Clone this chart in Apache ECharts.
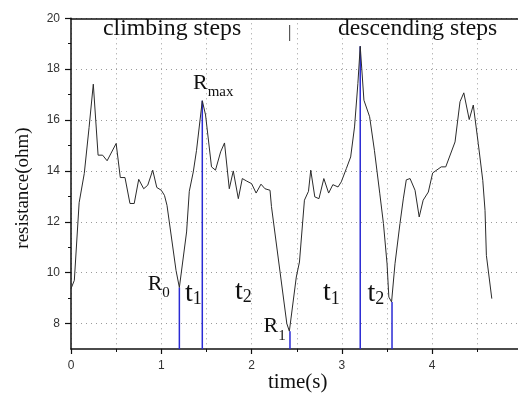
<!DOCTYPE html>
<html>
<head>
<meta charset="utf-8">
<script src="https://cdn.jsdelivr.net/npm/echarts@6/dist/echarts.min.js"></script>
<style>
  html, body { margin: 0; padding: 0; background: #ffffff; }
  #chart { width: 518px; height: 394px; }
</style>
</head>
<body>
<div id="chart"></div>
<script>
// Resistance trace recorded while walking up and then down a flight of steps
const timeS = [
  0, 0.037, 0.09, 0.147, 0.2, 0.247, 0.3, 0.35, 0.4, 0.5,
  0.546, 0.598, 0.653, 0.7, 0.75, 0.805, 0.85, 0.905, 0.95, 1.0,
  1.035, 1.063, 1.163, 1.2, 1.28, 1.31, 1.354, 1.39, 1.454, 1.49,
  1.556, 1.6, 1.657, 1.7, 1.753, 1.797, 1.853, 1.897, 1.946, 2.0,
  2.05, 2.104, 2.148, 2.204, 2.22, 2.39, 2.418, 2.44, 2.495, 2.53,
  2.585, 2.63, 2.655, 2.7, 2.746, 2.8, 2.853, 2.9, 2.957, 2.993,
  3.05, 3.097, 3.14, 3.177, 3.203, 3.244, 3.307, 3.36, 3.42, 3.46,
  3.5, 3.52, 3.55, 3.588, 3.643, 3.68, 3.713, 3.755, 3.81, 3.856,
  3.9, 3.957, 4.005, 4.1, 4.15, 4.253, 4.308, 4.35, 4.41, 4.455,
  4.51, 4.56, 4.585, 4.6, 4.66
];
const resistanceOhm = [
  9.37, 9.7, 12.75, 13.9, 15.7, 17.41, 14.62, 14.62, 14.4, 15.08,
  13.74, 13.74, 12.72, 12.72, 13.67, 13.3, 13.44, 14.03, 13.35, 13.24,
  13.04, 12.65, 10.09, 9.42, 11.6, 13.2, 13.96, 14.81, 16.76, 16.2,
  14.16, 14.03, 14.75, 15.1, 13.3, 14.0, 12.91, 13.7, 13.6, 13.5,
  13.13, 13.48, 13.3, 13.24, 12.6, 8.0, 7.7, 7.7, 9.83, 10.42,
  12.85, 13.2, 14.03, 12.98, 12.91, 13.7, 13.13, 13.46, 13.37, 13.57,
  14.1, 14.55, 15.73, 17.44, 18.9, 16.78, 16.13, 14.81, 13.1, 11.93,
  10.35, 9.04, 8.85, 10.35, 11.93, 12.9, 13.65, 13.7, 13.24, 12.19,
  12.85, 13.17, 13.92, 14.16, 14.16, 15.14, 16.72, 17.07, 16.02, 16.59,
  15.08, 13.63, 12.45, 10.68, 8.98
];

// Characteristic instants (R0, Rmax, R1, second peak, second valley)
const markerTime = [1.2, 1.454, 2.425, 3.203, 3.555];
const markerOhm = [9.42, 16.76, 7.7, 18.9, 8.85];

// Axis ranges and tick values
const timeRange = [0, 5];
const ohmRange = [7, 20];
const ohmLabelTicks = [8, 10, 12, 14, 16, 18, 20];
const ohmMinorTicks = [9, 11, 13, 15, 17, 19];

// Text annotations: symbol, subscript, anchor (left edge, baseline) in data units
const annoMain = ['R', 'R', 't', 't', 'R', 't', 't'];
const annoSub = ['max', '0', '1', '2', '1', '1', '2'];
const annoTime = [1.351, 0.849, 1.262, 1.816, 2.132, 2.791, 3.283];
const annoOhm = [17.18, 9.26, 8.83, 8.91, 7.60, 8.84, 8.82];

const SERIF = '"Liberation Serif", "Times New Roman", serif';
const SANS = '"Liberation Sans", Arial, sans-serif';
const dotted = { color: '#9a9a9a', width: 1, type: [1, 4] };

const curve = timeS.map((t, i) => [t, resistanceOhm[i]]);

const markerSeries = markerTime.map((t, i) => ({
  type: 'line',
  data: [[t, ohmRange[0]], [t, markerOhm[i]]],
  symbol: 'none',
  lineStyle: { color: '#2a2ad4', width: 1.5 },
  silent: true,
  z: 3
}));

const option = {
  animation: false,
  backgroundColor: '#ffffff',
  grid: { left: 71, top: 18.3, right: -4.5, bottom: 45, outerBoundsMode: 'none' },
  xAxis: [
    {
      type: 'value',
      min: timeRange[0], max: timeRange[1], interval: 1,
      axisLine: { show: true, onZero: false, lineStyle: { color: '#111', width: 1.5 } },
      axisTick: { show: true, inside: false, length: 5, lineStyle: { color: '#111', width: 1.2 } },
      minorTick: { show: true, splitNumber: 2, length: 3, lineStyle: { color: '#111', width: 1 } },
      axisLabel: { color: '#333', fontFamily: SANS, fontSize: 12, margin: 11 },
      splitLine: { show: true, lineStyle: dotted },
      minorSplitLine: { show: true, lineStyle: dotted }
    },
    {
      type: 'value', position: 'top',
      min: timeRange[0], max: timeRange[1], interval: 1,
      axisLine: { show: true, onZero: false, lineStyle: { color: '#111', width: 1.5 } },
      axisTick: { show: false }, axisLabel: { show: false }, splitLine: { show: false }
    }
  ],
  yAxis: [
    {
      type: 'value',
      min: ohmRange[0], max: ohmRange[1], interval: 1,
      axisLine: { show: true, onZero: false, lineStyle: { color: '#111', width: 1.5 } },
      axisTick: { show: true, inside: false, length: 6, customValues: ohmLabelTicks, lineStyle: { color: '#111', width: 1.2 } },
      axisLabel: { color: '#333', fontFamily: SANS, fontSize: 12, margin: 11, customValues: ohmLabelTicks },
      splitLine: { show: true, lineStyle: dotted }
    },
    {
      type: 'value', position: 'left',
      min: ohmRange[0], max: ohmRange[1], interval: 1,
      axisLine: { show: false },
      axisTick: { show: true, inside: false, length: 3, customValues: ohmMinorTicks, lineStyle: { color: '#111', width: 1 } },
      axisLabel: { show: false }, splitLine: { show: false }
    }
  ],
  series: [
    {
      type: 'line',
      data: curve,
      symbol: 'none',
      lineStyle: { color: '#2b2b2b', width: 1 },
      silent: true,
      z: 4
    }
  ].concat(markerSeries)
};

const chart = echarts.init(document.getElementById('chart'), null, { renderer: 'canvas' });
chart.setOption(option);

// Place the symbol/subscript labels at their data anchors
const measure = document.createElement('canvas').getContext('2d');
function widthOf(text, size) {
  measure.font = size + 'px ' + SERIF;
  return measure.measureText(text).width;
}
const annoStyle = {
  R: { main: 22, sub: 15, drop: 7 },
  t: { main: 28, sub: 18, drop: 3 }
};
function textAt(text, x, baseline, size, extra) {
  return Object.assign({
    type: 'text',
    x: x,
    y: baseline - 0.33 * size,
    silent: true,
    z: 10,
    style: {
      text: text,
      fill: '#111',
      font: size + 'px ' + SERIF,
      align: 'left',
      verticalAlign: 'middle'
    }
  }, extra || {});
}

const elements = [];
annoMain.forEach((m, i) => {
  const p = chart.convertToPixel({ seriesIndex: 0 }, [annoTime[i], annoOhm[i]]);
  const s = annoStyle[m];
  elements.push(textAt(m, p[0], p[1], s.main));
  elements.push(textAt(annoSub[i], p[0] + widthOf(m, s.main), p[1] + s.drop, s.sub));
});

// Phase captions and axis titles
elements.push(textAt('climbing steps', 103, 37, 23.8));
elements.push(textAt('|', 288, 38, 17));
elements.push(textAt('descending steps', 338, 37, 23.6));
elements.push(textAt('time(s)', 268, 389, 21));
elements.push({
  type: 'text',
  x: 23, y: 188,
  rotation: Math.PI / 2,
  silent: true,
  style: {
    text: 'resistance(ohm)',
    fill: '#111',
    font: '19px ' + SERIF,
    align: 'center',
    verticalAlign: 'middle'
  }
});

chart.setOption({ graphic: { elements: elements } });
</script>
</body>
</html>
